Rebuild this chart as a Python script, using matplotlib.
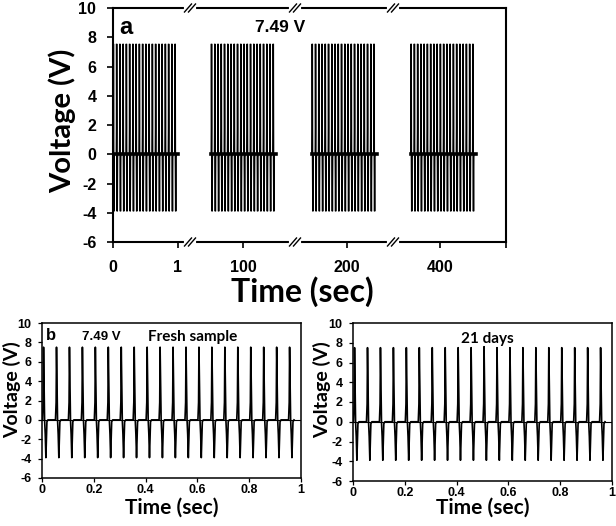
import matplotlib
matplotlib.use("Agg")
import matplotlib.pyplot as plt
import numpy as np

# ---------------- data ----------------
# panel b / c : spike times (s) within 1 s window, peak and trough voltages
spike_times = [0.006, 0.056, 0.106, 0.156, 0.206, 0.256, 0.306, 0.356, 0.406, 0.456,
               0.506, 0.556, 0.606, 0.656, 0.706, 0.756, 0.806, 0.856, 0.906, 0.956]
fresh_peaks = [7.5, 7.5, 7.5, 7.5, 7.5, 7.5, 7.5, 7.5, 7.5, 7.5,
               7.5, 7.5, 7.5, 7.5, 7.5, 7.5, 7.5, 7.5, 7.5, 7.5]
fresh_troughs = [-3.9, -3.9, -3.9, -3.9, -3.9, -3.9, -3.9, -3.9, -3.9, -3.9,
                 -3.9, -3.9, -3.9, -3.9, -3.9, -3.9, -3.9, -3.9, -3.9, -3.9]
aged_peaks = [7.5, 7.5, 7.5, 7.5, 7.5, 7.5, 7.5, 7.5, 7.5, 7.5,
              7.6, 7.5, 7.5, 7.5, 7.5, 7.5, 7.5, 7.5, 7.5, 7.5]
aged_troughs = [-3.9, -3.9, -3.9, -3.9, -3.9, -3.9, -3.9, -3.9, -3.9, -3.9,
                -3.9, -3.9, -3.9, -3.9, -3.9, -3.9, -3.9, -3.9, -3.9, -3.9]
# pulse shape: time offsets relative to the peak and fraction of peak / trough
pulse_dt = [-0.004, -0.0015, 0.0, 0.004, 0.0065, 0.009, 0.013, 0.017]
pulse_kind = ["0", "p0.24", "p1", "0", "t0.38", "t1", "t0.05", "0"]

# panel a : four 1-s recording blocks
block_starts = [0.0, 99.51, 199.46, 399.55]
block_peak = 7.55
block_trough = -3.9
seg_ranges = [(0.0, 1.185), (99.185, 100.8), (199.2, 200.708), (399.277, 401.015)]
seg_ticks = [[0, 1], [100], [200], [400]]
yticks = [-6, -4, -2, 0, 2, 4, 6, 8, 10]

W, H = 616, 526
fig = plt.figure(figsize=(W / 100, H / 100), dpi=100)

TICKFONT = "Liberation Sans"
LABFONT = "Lato"


def waveform(times, peaks, troughs, offset=0.0):
    xs, ys = [], []
    for t, p, tr in zip(times, peaks, troughs):
        for dt, k in zip(pulse_dt, pulse_kind):
            xs.append(offset + t + dt)
            if k == "0":
                ys.append(0.0)
            elif k[0] == "p":
                ys.append(p * float(k[1:]))
            else:
                ys.append(tr * float(k[1:]))
    return np.array(xs), np.array(ys)


def fx(px):
    return px / W


def fy(py):
    return 1 - py / H


# ---------------- panel a ----------------
bounds = [113, 190, 295, 393, 506]
top_px, bot_px = 8, 242
axes_a = []
for i in range(4):
    ax = fig.add_axes([fx(bounds[i]), fy(bot_px), fx(bounds[i + 1] - bounds[i]),
                       (bot_px - top_px) / H])
    ax.set_xlim(*seg_ranges[i])
    ax.set_ylim(-6, 10)
    for s in ax.spines.values():
        s.set_linewidth(1.5)
    ax.spines["left"].set_visible(i == 0)
    ax.spines["right"].set_visible(i == 3)
    ax.set_xticks(seg_ticks[i])
    ax.set_xticklabels([str(v) for v in seg_ticks[i]], fontfamily=TICKFONT,
                       fontweight="bold", fontsize=11.5)
    ax.tick_params(axis="x", direction="out", length=4, width=1.2, pad=9)
    if i == 0:
        ax.set_yticks(yticks)
        ax.set_yticklabels([str(v) for v in yticks], fontfamily=TICKFONT,
                           fontweight="bold", fontsize=11.5)
        ax.tick_params(axis="y", direction="out", length=4, width=1.2, pad=8)
    else:
        ax.set_yticks([])
    if i == 3:
        ax.set_xticks([seg_ranges[3][1]], minor=True)
        ax.tick_params(axis="x", which="minor", length=4, width=1.2)
    ax.patch.set_alpha(0)
    # data block
    b0 = block_starts[i]
    xs, ys = waveform(spike_times, [block_peak] * len(spike_times),
                      [block_trough] * len(spike_times), offset=b0)
    ax.plot(xs, ys, color="black", lw=1.1, solid_joinstyle="miter")
    ax.plot([b0, b0 + 1.0], [0, 0], color="black", lw=2.6)
    axes_a.append(ax)

axes_a[0].set_ylabel("Voltage (V)", fontfamily=LABFONT, fontweight="bold",
                     fontsize=21)
axes_a[0].yaxis.set_label_coords((76 - 113) / 77, (242 - 121) / 234)
fig.text(fx(302), fy(292), "Time (sec)", fontfamily=LABFONT, fontweight="bold",
         fontsize=23, ha="center", va="center")
fig.text(fx(119), fy(27), "a", fontfamily=TICKFONT, fontweight="bold",
         fontsize=17, ha="left", va="center")
fig.text(fx(280), fy(27), "7.49 V", fontfamily=TICKFONT, fontweight="bold",
         fontsize=12.5, ha="center", va="center")

# break marks
for bx in bounds[1:4]:
    for by in (top_px, bot_px):
        fig.add_artist(plt.Line2D([fx(bx - 4), fx(bx + 4)], [fy(by), fy(by)],
                                  color="white", lw=3, transform=fig.transFigure))
        for dx in (-2, 2):
            fig.add_artist(plt.Line2D([fx(bx + dx - 3.5), fx(bx + dx + 3.5)],
                                      [fy(by + 4), fy(by - 4)], color="black",
                                      lw=1.0, transform=fig.transFigure))

# ---------------- panels b and c ----------------
xt = [0, 0.2, 0.4, 0.6, 0.8, 1]
xtl = ["0", "0.2", "0.4", "0.6", "0.8", "1"]


def small_panel(rect_px, peaks, troughs, ylab_px, xlab_py):
    l, r, t, b = rect_px
    ax = fig.add_axes([fx(l), fy(b), fx(r - l), (b - t) / H])
    xs, ys = waveform(spike_times, peaks, troughs)
    ax.plot(xs, ys, color="black", lw=1.2)
    ax.plot([0, 1], [0, 0], color="black", lw=0.8)
    ax.set_xlim(0, 1)
    ax.set_ylim(-6, 10)
    ax.set_xticks(xt)
    ax.set_xticklabels(xtl, fontfamily=TICKFONT, fontweight="bold", fontsize=9)
    ax.set_yticks(yticks)
    ax.set_yticklabels([str(v) for v in yticks], fontfamily=TICKFONT,
                       fontweight="bold", fontsize=9)
    ax.tick_params(axis="y", direction="out", length=3, width=0.9, pad=4.5)
    ax.tick_params(axis="x", direction="out", length=3, width=0.9, pad=1.5)
    for s in ax.spines.values():
        s.set_linewidth(1.1)
    ax.set_ylabel("Voltage (V)", fontfamily=LABFONT, fontweight="bold",
                  fontsize=14)
    ax.yaxis.set_label_coords((ylab_px - l) / (r - l), (b - 390) / (b - t))
    ax.set_xlabel("Time (sec)", fontfamily=LABFONT, fontweight="bold",
                  fontsize=15)
    ax.xaxis.set_label_coords(0.5, (b - xlab_py) / (b - t))
    return ax


axb = small_panel((42, 301, 323, 478), fresh_peaks, fresh_troughs, 21, 498)
axc = small_panel((353, 612, 323, 481), aged_peaks, aged_troughs, 331, 498)

fig.text(fx(46), fy(335), "b", fontfamily=TICKFONT, fontweight="bold",
         fontsize=12, ha="left", va="center")
fig.text(fx(101), fy(337), "7.49 V", fontfamily=TICKFONT, fontweight="bold",
         fontsize=9.5, ha="center", va="center")
fig.text(fx(193), fy(337), "Fresh sample", fontfamily=LABFONT, fontweight="bold",
         fontsize=11, ha="center", va="center")
fig.text(fx(487), fy(339), "21 days", fontfamily=LABFONT, fontweight="bold",
         fontsize=11, ha="center", va="center")

fig.savefig("out.png", dpi=100)
